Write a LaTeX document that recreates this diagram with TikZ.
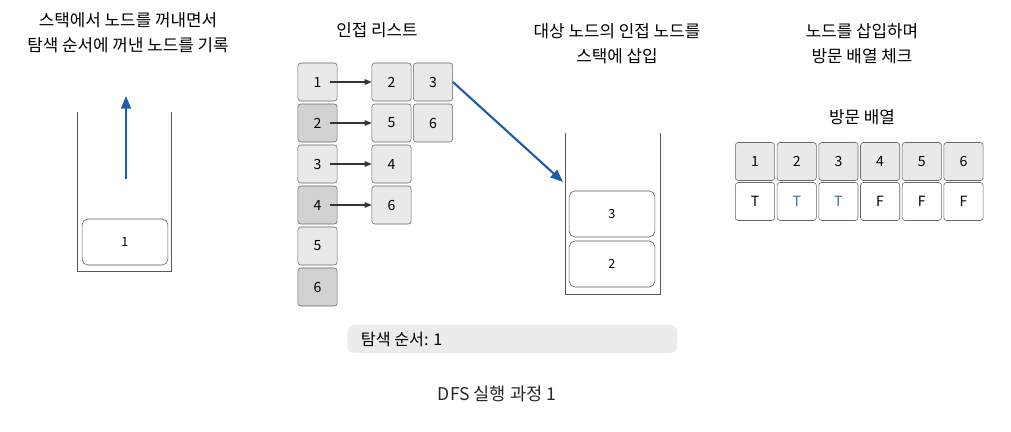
\documentclass[tikz,border=0pt]{standalone}
\usepackage{fontspec}
\setmainfont{Noto Sans CJK KR}
\usetikzlibrary{arrows.meta}
\definecolor{cellA}{HTML}{E9E9E9}
\definecolor{cellB}{HTML}{D2D2D2}
\definecolor{bar}{HTML}{ECECEC}
\definecolor{blu}{HTML}{1E5CA8}
\definecolor{tblu}{HTML}{3C6E8E}
\tikzset{
  cella/.style={draw=gray!80!black, fill=cellA, rounded corners=2pt, minimum width=0.98cm, minimum height=0.95cm, font=\fontsize{10}{12}\selectfont, inner sep=0pt},
  cellb/.style={cella, fill=cellB},
  cellw/.style={cella, fill=white},
  stackbox/.style={draw=gray!70!black, rounded corners=4pt, minimum width=2.14cm, minimum height=1.15cm, font=\fontsize{9}{11}\selectfont, inner sep=0pt},
  titolo/.style={align=center, font=\fontsize{12}{18}\selectfont},
  adj/.style={-{Triangle[length=5pt,width=4pt]}, gray!40!black, thick},
}
\begin{document}
\begin{tikzpicture}[x=0.025cm,y=-0.025cm]
        \useasboundingbox (0,0) rectangle (1011,432);
        % Titoli
        \node[titolo] (t1) at (128,33) {스택에서 노드를 꺼내면서\\탐색 순서에 꺼낸 노드를 기록};
        \node[titolo] (t2) at (377,30) {인접 리스트};
        \node[titolo] (t3) at (617,44) {대상 노드의 인접 노드를\\스택에 삽입};
        \node[titolo] (t4) at (862,44) {노드를 삽입하며\\방문 배열 체크};
        \node[titolo] (t5) at (862,117) {방문 배열};

        % Stack sinistra
        \draw [gray!70!black] (77,112) -- (77,271) -- (171,271) -- (171,112);
        \node[stackbox] (s1) at (125,242) {1};
        \coordinate (su) at (126,96);
        \coordinate (sd) at (126,179);
        \draw [-{Triangle[length=9pt,width=7pt]}, blu, line width=1.5pt] (sd) -- (su);

        % Lista di adiacenza
        \node[cella] (a1) at (317.5,82) {1};
        \node[cellb] (a2) at (317.5,123) {2};
        \node[cella] (a3) at (317.5,164) {3};
        \node[cellb] (a4) at (317.5,205) {4};
        \node[cella] (a5) at (317.5,246) {5};
        \node[cellb] (a6) at (317.5,287) {6};

        \node[cella] (b1) at (391.5,82) {2};
        \node[cella] (c1) at (433,82) {3};
        \node[cella] (b2) at (391.5,123) {5};
        \node[cella] (c2) at (433,123) {6};
        \node[cella] (b3) at (391.5,164) {4};
        \node[cella] (b4) at (391.5,205) {6};

        \draw [adj] (a1.center) ++(12,0) -- (b1.west);
        \draw [adj] (a2.center) ++(12,0) -- (b2.west);
        \draw [adj] (a3.center) ++(12,0) -- (b3.west);
        \draw [adj] (a4.center) ++(12,0) -- (b4.west);

        % Stack destra
        \draw [gray!70!black] (565,133) -- (565,294) -- (660,294) -- (660,133);
        \node[stackbox] (s3) at (612,214) {3};
        \node[stackbox] (s2) at (612,264) {2};
        \coordinate (pin) at (563,182);
        \draw [-{Triangle[length=9pt,width=7pt]}, blu, line width=1.5pt] (c1.east) -- (pin);

        % Array visitati
        \node[cella] (v1) at (755,161.5) {1};
        \node[cella] (v2) at (796.7,161.5) {2};
        \node[cella] (v3) at (838.4,161.5) {3};
        \node[cella] (v4) at (880.1,161.5) {4};
        \node[cella] (v5) at (921.8,161.5) {5};
        \node[cella] (v6) at (963.5,161.5) {6};
        \node[cellw] (w1) at (755,201.5) {T};
        \node[cellw, text=tblu] (w2) at (796.7,201.5) {T};
        \node[cellw, text=tblu] (w3) at (838.4,201.5) {T};
        \node[cellw] (w4) at (880.1,201.5) {F};
        \node[cellw] (w5) at (921.8,201.5) {F};
        \node[cellw] (w6) at (963.5,201.5) {F};

        % Ordine
        \node[fill=bar, rounded corners=5pt, minimum width=8.25cm, minimum height=0.7cm, anchor=west] (ord) at (347,339) {};
        \node[anchor=west, font=\fontsize{11.5}{13}\selectfont] (ordt) at (356,339) {탐색 순서: 1};
        \node[font=\fontsize{12.5}{14}\selectfont, text=gray!30!black] (cap) at (497,394) {DFS 실행 과정 1};
    \end{tikzpicture}
\end{document}
